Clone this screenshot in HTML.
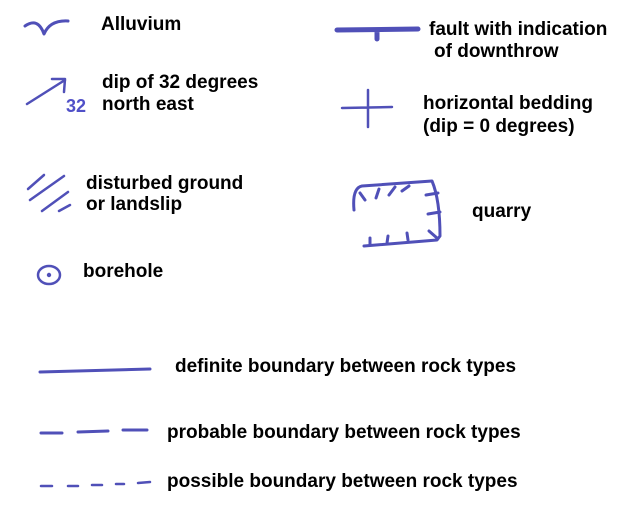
<!DOCTYPE html>
<html><head><style>
html,body{margin:0;padding:0;background:#fff;}
svg{display:block;}
text{font-family:"Liberation Sans",Arial,sans-serif;font-weight:bold;font-size:19px;fill:#000;}
.s{stroke:#5050b8;fill:none;stroke-linecap:round;stroke-linejoin:round;}
</style></head><body>
<svg width="633" height="519" viewBox="0 0 633 519">
<path class="s" stroke-width="3" d="M25,26 Q38,17 44,34 Q50,20 68,21"/>
<text x="101" y="30">Alluvium</text>
<path class="s" stroke-width="2.5" d="M27,104 L65,80 M52,79 L65,79 L64,92"/>
<text x="66" y="112" style="fill:#5050c8;font-size:18px">32</text>
<text x="102" y="88">dip of 32 degrees</text>
<text x="102" y="110">north east</text>
<path class="s" stroke-width="2.5" d="M28,189 L44,175 M30,200 L64,176 M42,211 L68,192 M59,211 L70,205"/>
<text x="86" y="189">disturbed ground</text>
<text x="86" y="210">or landslip</text>
<ellipse class="s" stroke-width="2.5" cx="49" cy="275" rx="11" ry="9"/>
<circle cx="49" cy="275" r="2.2" fill="#5050b8"/>
<text x="83" y="277">borehole</text>
<path class="s" stroke-width="5" d="M337,30 L418,29 M377,31 L377,39"/>
<text x="429" y="35">fault with indication</text>
<text x="434" y="57">of downthrow</text>
<path class="s" stroke-width="2.5" d="M342,108 L392,107 M368,90 L368,127"/>
<text x="423" y="109">horizontal bedding</text>
<text x="423" y="132">(dip = 0 degrees)</text>
<path class="s" stroke-width="3" d="M354,210 Q352,188 362,186 L432,181 Q440,200 440,236 L437,240 L364,246 M360,193 L365,200 M379,189 L376,198 M395,187 L389,195 M409,186 L402,191 M426,195 L438,193 M428,214 L440,212 M429,231 L437,238 M370,238 L370,245 M388,236 L387,243 M407,233 L408,240"/>
<text x="472" y="217">quarry</text>
<path class="s" stroke-width="3" d="M40,372 L150,369"/>
<text x="175" y="372">definite boundary between rock types</text>
<path class="s" stroke-width="3" d="M41,433 L62,433 M78,432 L108,431 M123,430 L147,430"/>
<text x="167" y="438">probable boundary between rock types</text>
<path class="s" stroke-width="2.5" d="M41,486 L52,486 M68,486 L78,486 M92,485 L102,485 M116,484 L124,484 M138,483 L150,482"/>
<text x="167" y="487">possible boundary between rock types</text>
</svg>
</body></html>
